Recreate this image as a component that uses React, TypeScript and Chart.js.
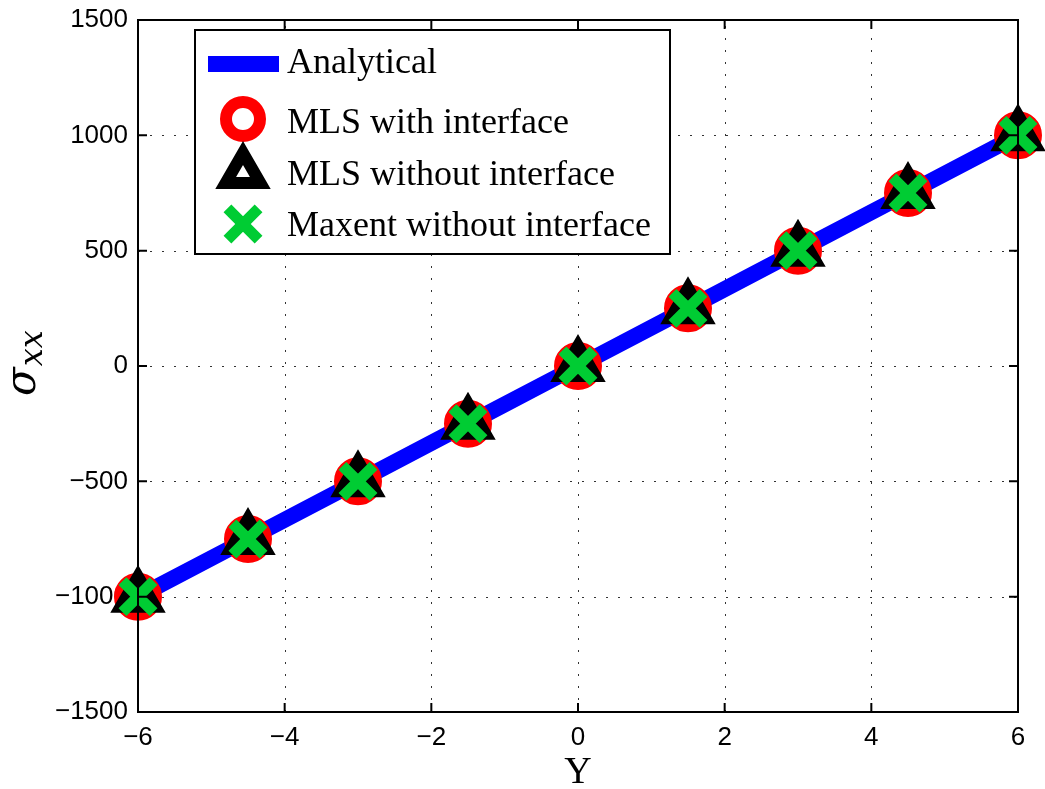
import React, { useEffect, useRef } from 'react';
import { Chart, registerables } from 'chart.js';

Chart.register(...registerables);

// ---- data ----
const yPositions = [-6, -4.5, -3, -1.5, 0, 1.5, 3, 4.5, 6];
const analytical = [-1000, -750, -500, -250, 0, 250, 500, 750, 1000];
const mlsWithInterface = [-1000, -750, -500, -250, 0, 250, 500, 750, 1000];
const mlsWithoutInterface = [-1000, -750, -500, -250, 0, 250, 500, 750, 1000];
const maxentWithoutInterface = [-1000, -750, -500, -250, 0, 250, 500, 750, 1000];
const xTicks = [-6, -4, -2, 0, 2, 4, 6];
const yTicks = [-1500, -1000, -500, 0, 500, 1000, 1500];
const legendLabels = ['Analytical', 'MLS with interface', 'MLS without interface', 'Maxent without interface'];
const xTitle = 'Y';

const BLUE = '#0000ff';
const RED = '#ff0000';
const BLACK = '#000000';
const GREEN = '#00cc33';

const toPts = (ys: number[]) => yPositions.map((x, i) => ({ x, y: ys[i] }));
const fmt = (v: number) => String(v).replace('-', '\u2212');

const drawTriangle = (ctx: CanvasRenderingContext2D, x: number, y: number, r: number) => {
  let rad = 0;
  ctx.beginPath();
  for (let k = 0; k < 3; k++) {
    const px = x + Math.sin(rad) * r;
    const py = y - Math.cos(rad) * r;
    if (k === 0) ctx.moveTo(px, py); else ctx.lineTo(px, py);
    rad += (2 * Math.PI) / 3;
  }
  ctx.closePath();
};

const zeroPad = (s: any) => {
  s.paddingTop = 0;
  s.paddingBottom = 0;
  s.paddingLeft = 0;
  s.paddingRight = 0;
};

const framePlugin = {
  id: 'frame',
  beforeDatasetsDraw(chart: any) {
    const { ctx, chartArea: a, scales } = chart;
    const x = scales.x;
    const y = scales.y;
    ctx.save();
    ctx.strokeStyle = '#333';
    ctx.lineWidth = 1;
    ctx.setLineDash([2, 10]);
    for (const v of xTicks) {
      const px = Math.round(x.getPixelForValue(v)) + 0.5;
      ctx.beginPath();
      ctx.moveTo(px, a.bottom);
      ctx.lineTo(px, a.top);
      ctx.stroke();
    }
    for (const v of yTicks) {
      const py = Math.round(y.getPixelForValue(v)) + 0.5;
      ctx.beginPath();
      ctx.moveTo(a.left, py);
      ctx.lineTo(a.right, py);
      ctx.stroke();
    }
    ctx.restore();
  },
  afterDatasetsDraw(chart: any) {
    const { ctx, chartArea: a, scales } = chart;
    const x = scales.x;
    const y = scales.y;
    ctx.save();
    ctx.setLineDash([]);
    ctx.strokeStyle = BLACK;
    ctx.lineWidth = 2;
    ctx.strokeRect(a.left, a.top, a.right - a.left, a.bottom - a.top);
    const tl = 9;
    ctx.beginPath();
    for (const v of xTicks) {
      const px = x.getPixelForValue(v);
      ctx.moveTo(px, a.bottom); ctx.lineTo(px, a.bottom - tl);
      ctx.moveTo(px, a.top); ctx.lineTo(px, a.top + tl);
    }
    for (const v of yTicks) {
      const py = y.getPixelForValue(v);
      ctx.moveTo(a.left, py); ctx.lineTo(a.left + tl, py);
      ctx.moveTo(a.right, py); ctx.lineTo(a.right - tl, py);
    }
    ctx.stroke();

    // x title
    ctx.fillStyle = BLACK;
    ctx.font = '38px "Liberation Serif"';
    ctx.textAlign = 'center';
    ctx.textBaseline = 'alphabetic';
    ctx.fillText(xTitle, (a.left + a.right) / 2, 783);

    // y title: sigma_xx rotated
    ctx.save();
    ctx.translate(35, 396);
    ctx.rotate(-Math.PI / 2);
    ctx.textAlign = 'left';
    ctx.font = 'italic 42px "DejaVu Serif"';
    ctx.fillText('\u03c3', 0, 0);
    const w = ctx.measureText('\u03c3').width;
    ctx.font = 'italic 32px "DejaVu Serif"';
    ctx.fillText('xx', w + 1, 7);
    ctx.restore();

    // legend
    const L = 195, T = 30, R = 670, B = 254;
    ctx.fillStyle = '#ffffff';
    ctx.fillRect(L, T, R - L, B - T);
    ctx.strokeStyle = BLACK;
    ctx.lineWidth = 2;
    ctx.strokeRect(L, T, R - L, B - T);

    const mx = 243;
    // analytical line
    ctx.strokeStyle = BLUE;
    ctx.lineWidth = 16;
    ctx.lineCap = 'butt';
    ctx.beginPath();
    ctx.moveTo(208, 64);
    ctx.lineTo(279, 64);
    ctx.stroke();
    // circle
    ctx.strokeStyle = RED;
    ctx.lineWidth = 12;
    ctx.beginPath();
    ctx.arc(mx, 119, 17, 0, Math.PI * 2);
    ctx.stroke();
    // triangle
    ctx.strokeStyle = BLACK;
    ctx.lineWidth = 12;
    ctx.lineJoin = 'miter';
    drawTriangle(ctx, mx, 173, 20);
    ctx.stroke();
    // cross
    ctx.strokeStyle = GREEN;
    ctx.lineWidth = 11;
    const o = 22 * Math.cos(Math.PI / 4);
    ctx.beginPath();
    ctx.moveTo(mx - o, 224 - o); ctx.lineTo(mx + o, 224 + o);
    ctx.moveTo(mx + o, 224 - o); ctx.lineTo(mx - o, 224 + o);
    ctx.stroke();

    ctx.fillStyle = BLACK;
    ctx.font = '36px "Liberation Serif"';
    ctx.textAlign = 'left';
    const baselines = [73, 133, 185, 236];
    legendLabels.forEach((t, i) => ctx.fillText(t, 287, baselines[i]));
    ctx.restore();
  },
};

export default function App() {
  const ref = useRef<HTMLCanvasElement | null>(null);

  useEffect(() => {
    if (!ref.current) return;
    const tickFont = { family: '"Liberation Sans", Arial, sans-serif', size: 26 };
    const chart = new Chart(ref.current, {
      type: 'scatter',
      data: {
        datasets: [
          {
            label: legendLabels[3],
            data: toPts(maxentWithoutInterface),
            showLine: false,
            pointStyle: 'crossRot',
            pointRadius: 22,
            pointBorderWidth: 11,
            pointBorderColor: GREEN,
            pointBackgroundColor: 'transparent',
            clip: false,
            order: 1,
          },
          {
            label: legendLabels[2],
            data: toPts(mlsWithoutInterface),
            showLine: false,
            pointStyle: 'triangle',
            pointRadius: 20,
            pointBorderWidth: 12,
            pointBorderColor: BLACK,
            pointBackgroundColor: 'transparent',
            clip: false,
            order: 2,
          },
          {
            label: legendLabels[1],
            data: toPts(mlsWithInterface),
            showLine: false,
            pointStyle: 'circle',
            pointRadius: 18,
            pointBorderWidth: 12,
            pointBorderColor: RED,
            pointBackgroundColor: 'transparent',
            clip: false,
            order: 3,
          },
          {
            label: legendLabels[0],
            data: toPts(analytical),
            showLine: true,
            borderColor: BLUE,
            borderWidth: 16,
            borderCapStyle: 'butt',
            pointRadius: 0,
            tension: 0,
            clip: false,
            order: 4,
          },
        ] as any,
      },
      options: {
        responsive: false,
        animation: false,
        devicePixelRatio: 1,
        events: [],
        layout: { autoPadding: false, padding: { top: 20, right: 27, left: 0, bottom: 0 } },
        plugins: {
          legend: { display: false },
          tooltip: { enabled: false },
        },
        scales: {
          x: {
            type: 'linear',
            min: -6,
            max: 6,
            afterBuildTicks: (s: any) => { s.ticks = xTicks.map((v) => ({ value: v })); },
            afterFit: (s: any) => { s.height = 77; zeroPad(s); },
            grid: { display: false, drawTicks: false },
            border: { display: false },
            ticks: {
              color: BLACK,
              font: tickFont,
              padding: 10,
              maxRotation: 0,
              autoSkip: false,
              callback: (v: any) => fmt(Number(v)),
            },
          },
          y: {
            type: 'linear',
            min: -1500,
            max: 1500,
            afterBuildTicks: (s: any) => { s.ticks = yTicks.map((v) => ({ value: v })); },
            afterFit: (s: any) => { s.width = 138; zeroPad(s); },
            grid: { display: false, drawTicks: false },
            border: { display: false },
            ticks: {
              color: BLACK,
              font: tickFont,
              padding: 10,
              autoSkip: false,
              callback: (v: any) => fmt(Number(v)),
            },
          },
        },
      } as any,
      plugins: [framePlugin],
    });
    return () => chart.destroy();
  }, []);

  return (
    <div style={{ position: 'fixed', left: 0, top: 0, width: 1045, height: 789, background: '#fff' }}>
      <canvas ref={ref} width={1045} height={789} style={{ display: 'block' }} />
    </div>
  );
}
